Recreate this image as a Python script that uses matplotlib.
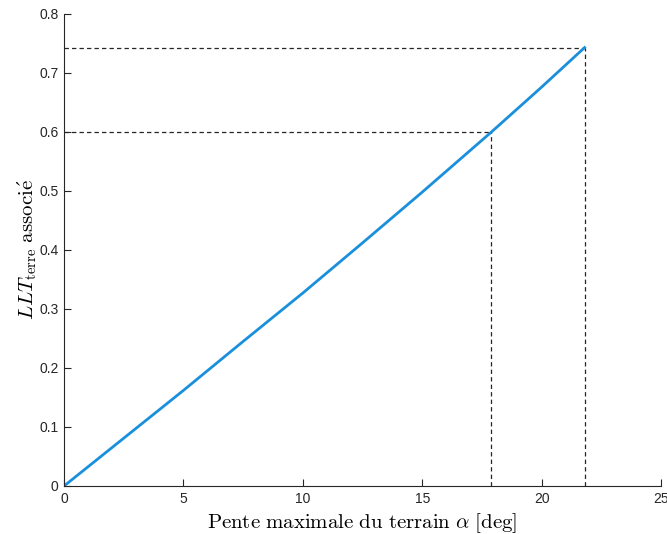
import matplotlib
matplotlib.use("Agg")
import matplotlib.pyplot as plt

# values
alpha = [0, 2.5, 5, 7.5, 10, 12.5, 15, 17.9, 20, 21.8]
llt = [0, 0.081, 0.162, 0.245, 0.327, 0.412, 0.498, 0.600, 0.676, 0.743]

# reference points marked by dashed lines
ref_alpha = [17.9, 21.8]
ref_llt = [0.600, 0.743]

xticks = [0, 5, 10, 15, 20, 25]
yticks = [0, 0.1, 0.2, 0.3, 0.4, 0.5, 0.6, 0.7, 0.8]

plt.rcParams['mathtext.fontset'] = 'cm'
plt.rcParams['font.family'] = ['Liberation Sans', 'DejaVu Sans']

fig = plt.figure(figsize=(6.67, 5.34), dpi=100)
ax = fig.add_axes([0.096, 0.0899, 0.895, 0.884])

for a, v in zip(ref_alpha, ref_llt):
    ax.plot([0, a], [v, v], '--', color='#262626', lw=0.9, dashes=(3.5, 2.5))
    ax.plot([a, a], [0, v], '--', color='#262626', lw=0.9, dashes=(3.5, 2.5))

ax.plot(alpha, llt, color='#1a8fdc', lw=2.0)

ax.set_xlim(0, 25)
ax.set_ylim(0, 0.8)
ax.set_xticks(xticks)
ax.set_yticks(yticks)
ax.set_xticklabels([str(t) for t in xticks])
ax.set_yticklabels(['0', '0.1', '0.2', '0.3', '0.4', '0.5', '0.6', '0.7', '0.8'])
ax.tick_params(direction='in', length=5, width=0.8, labelsize=10, colors='#262626', pad=4)
ax.spines['top'].set_visible(False)
ax.spines['right'].set_visible(False)
for s in ['left', 'bottom']:
    ax.spines[s].set_color('#262626')
    ax.spines[s].set_linewidth(0.8)

ax.set_xlabel(r'$\mathrm{Pente\ maximale\ du\ terrain}\ \alpha\ \mathrm{[deg]}$', fontsize=15, labelpad=4)
ax.set_ylabel(r'$LLT_{\mathrm{terre}}\ \mathrm{associ\acute{e}}$', fontsize=15, labelpad=0)

fig.savefig('out.png', dpi=100)
